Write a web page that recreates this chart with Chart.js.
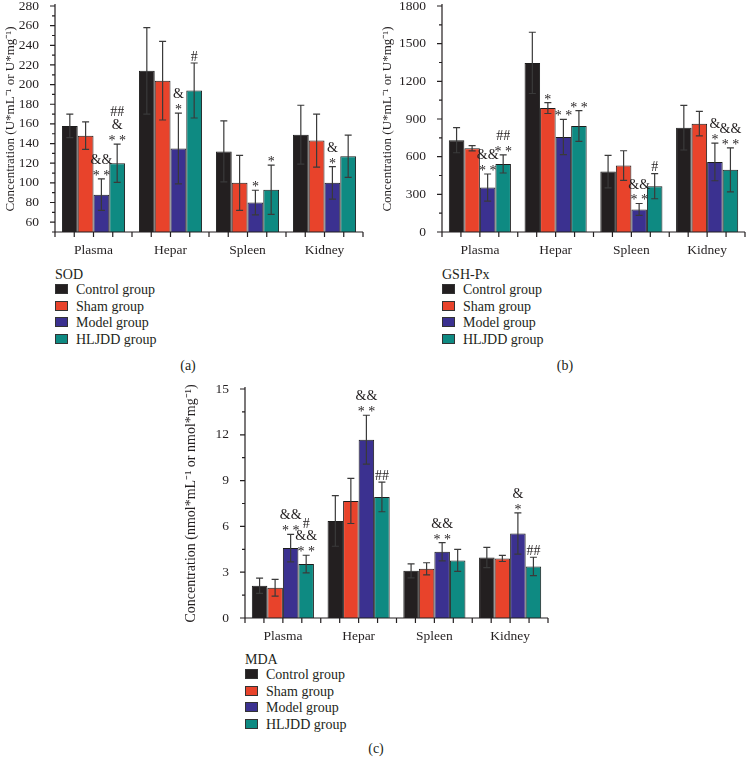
<!DOCTYPE html>
<html>
<head>
<meta charset="utf-8">
<script src="https://cdn.jsdelivr.net/npm/chart.js@4.4.0/dist/chart.umd.min.js"></script>
<style>
  body { margin: 0; background: #fff; width: 754px; height: 768px; position: relative; overflow: hidden;
         font-family: "Liberation Serif", "DejaVu Serif", serif; color: #231f20; }
  .box { position: absolute; }
  .legend { position: absolute; font-size: 14px; line-height: 16.6px; }
  .legend .ttl { line-height: 14px; height: 14px; }
  .legend .sw { display: inline-block; width: 13px; height: 10px; border: 1px solid #333; box-sizing: border-box;
                margin-right: 8px; vertical-align: 0px; }
  .cap { position: absolute; font-size: 14px; transform: translateX(-50%); }
</style>
</head>
<body>

<div class="box" style="left:0;top:0"><canvas id="sod" width="377" height="262"></canvas></div>
<div class="box" style="left:377px;top:0"><canvas id="gsh" width="377" height="262"></canvas></div>
<div class="box" style="left:180px;top:383px"><canvas id="mda" width="400" height="265"></canvas></div>

<div class="legend" id="legA" style="left:55px;top:268px"></div>
<div class="legend" id="legB" style="left:442px;top:268px"></div>
<div class="legend" id="legC" style="left:245px;top:653px"></div>

<div class="cap" style="left:188px;top:358px">(a)</div>
<div class="cap" style="left:565px;top:358px">(b)</div>
<div class="cap" style="left:376px;top:741px">(c)</div>

<script>
const organs = ['Plasma', 'Hepar', 'Spleen', 'Kidney'];
const groups = ['Control group', 'Sham group', 'Model group', 'HLJDD group'];
const groupColors = ['#231f20', '#e8432b', '#3b3190', '#0e8a82'];

// SOD (a)
const sodControl = [158, 214, 132, 149];
const sodSham    = [148, 204, 100, 143];
const sodModel   = [88, 135, 80, 100];
const sodHljdd   = [120, 194, 93, 127];
const sodControlSd = [12, 44, 31, 30];
const sodShamSd    = [14, 40, 28, 27];
const sodModelSd   = [16, 36, 12.5, 16.5];
const sodHljddSd   = [19.5, 28, 25, 21.5];
const sodModelMarks = ['&&|* *', '&|*', '*', '&|*'];
const sodHljddMarks = ['##|&|* *', '#', '*', ''];
const sodTicks = [60, 80, 100, 120, 140, 160, 180, 200, 220, 240, 260, 280];

// GSH-Px (b)
const gshControl = [731, 1347, 481, 831];
const gshSham    = [667, 987, 529, 863];
const gshModel   = [354, 757, 180, 558];
const gshHljdd   = [542, 844, 365, 495];
const gshControlSd = [100, 244, 130, 178];
const gshShamSd    = [21, 43, 118, 97];
const gshModelSd   = [108, 140, 47, 150];
const gshHljddSd   = [72, 123, 100, 175];
const gshShamMarks  = ['', '*', '', ''];
const gshModelMarks = ['&&|* *', '* *', '&&|* *', '&|*'];
const gshHljddMarks = ['##|* *', '* *', '#', '&&|* *'];
const gshTicks = [0, 300, 600, 900, 1200, 1500, 1800];

// MDA (c)
const mdaControl = [2.11, 6.36, 3.09, 3.96];
const mdaSham    = [1.98, 7.67, 3.22, 3.9];
const mdaModel   = [4.58, 11.68, 4.34, 5.53];
const mdaHljdd   = [3.53, 7.93, 3.77, 3.38];
const mdaControlSd = [0.5, 1.66, 0.46, 0.66];
const mdaShamSd    = [0.55, 1.48, 0.4, 0.2];
const mdaModelSd   = [0.9, 1.6, 0.6, 1.35];
const mdaHljddSd   = [0.58, 0.97, 0.72, 0.6];
const mdaModelMarks = ['&&|* *', '&&|* *', '&&|* *', '&|*'];
const mdaHljddMarks = ['#|&&|* *', '##', '', '##'];
const mdaTicks = [0, 3, 6, 9, 12, 15];

const FONT = 'Liberation Serif';
const INK = '#231f20';

// error bars, significance marks, axis lines and tick marks
const extras = {
  id: 'extras',
  afterDatasetsDraw(chart) {
    const ctx = chart.ctx, ys = chart.scales.y;
    ctx.save();
    chart.data.datasets.forEach((ds, di) => {
      chart.getDatasetMeta(di).data.forEach((bar, i) => {
        const v = ds.data[i], sd = ds.sd[i];
        const top = ys.getPixelForValue(v + sd), bot = ys.getPixelForValue(v - sd);
        const cx = bar.x;
        ctx.strokeStyle = '#3a3a3a';
        ctx.lineWidth = 1.2;
        ctx.beginPath();
        ctx.moveTo(cx, top); ctx.lineTo(cx, bot);
        ctx.moveTo(cx - 3.5, top); ctx.lineTo(cx + 3.5, top);
        ctx.moveTo(cx - 3.5, bot); ctx.lineTo(cx + 3.5, bot);
        ctx.stroke();
        const m = ds.marks && ds.marks[i];
        if (m) {
          const lines = m.split('|').reverse();
          ctx.fillStyle = INK;
          ctx.font = '14px "' + FONT + '"';
          ctx.textAlign = 'center';
          ctx.textBaseline = 'alphabetic';
          lines.forEach((t, k) => {
            // glyph centres: asterisk sits high, & and # sit lower
            const yc = top - 7 - k * 12.7;
            ctx.fillText(t, cx, yc + (t.startsWith('*') ? 8 : 4.8));
          });
        }
      });
    });
    ctx.restore();
  },
  afterDraw(chart) {
    const ctx = chart.ctx, ys = chart.scales.y;
    const a = chart.chartArea;
    ctx.save();
    ctx.strokeStyle = INK;
    ctx.lineWidth = 1.2;
    ctx.beginPath();
    ctx.moveTo(a.left, a.top - 2); ctx.lineTo(a.left, a.bottom);
    ctx.lineTo(a.right, a.bottom);
    const tv = ys.ticks.map(t => t.value);
    tv.forEach((v, k) => {
      const py = ys.getPixelForValue(v);
      ctx.moveTo(a.left, py); ctx.lineTo(a.left - 5, py);
      const mv = k > 0 ? (v + tv[k - 1]) / 2 : v - (tv[1] - tv[0]) / 2;
      if (mv >= ys.min) {
        const pm = ys.getPixelForValue(mv);
        ctx.moveTo(a.left, pm); ctx.lineTo(a.left - 3, pm);
      }
    });
    const n = organs.length * 4;
    for (let k = 0; k <= n; k++) {
      const px = a.left + (a.right - a.left) * k / n;
      ctx.moveTo(px, a.bottom); ctx.lineTo(px, a.bottom + 5);
    }
    ctx.stroke();
    ctx.restore();
  }
};

function makeChart(id, sets, tickVals, yMin, yMax, yTitle, titleSize, yWidth, pad) {
  return new Chart(document.getElementById(id), {
    type: 'bar',
    data: {
      labels: organs,
      datasets: sets.map((s, k) => ({
        label: groups[k],
        data: s.data,
        sd: s.sd,
        marks: s.marks,
        backgroundColor: groupColors[k],
        borderColor: '#1c1c1c',
        borderWidth: 1,
        categoryPercentage: 0.82,
        barPercentage: 1
      }))
    },
    options: {
      responsive: false,
      animation: false,
      layout: { padding: pad },
      plugins: { legend: { display: false }, tooltip: { enabled: false } },
      scales: {
        x: {
          grid: { display: false },
          border: { display: false },
          ticks: { color: INK, font: { family: FONT, size: 13.5 }, padding: 2 },
          afterFit: s => { s.height = 30; s.paddingLeft = 0; s.paddingRight = 0; }
        },
        y: {
          min: yMin, max: yMax,
          afterBuildTicks: s => { s.ticks = tickVals.map(v => ({ value: v })); },
          afterFit: s => { s.width = yWidth; s.paddingTop = 0; s.paddingBottom = 0; },
          grid: { display: false },
          border: { display: false },
          ticks: { color: INK, font: { family: FONT, size: 13.5 }, padding: 8, callback: v => String(v) },
          title: { display: true, text: yTitle, color: INK, font: { family: FONT, size: titleSize }, padding: { top: 3, bottom: 2 } }
        }
      }
    },
    plugins: [extras]
  });
}

makeChart('sod', [
  { data: sodControl, sd: sodControlSd },
  { data: sodSham, sd: sodShamSd },
  { data: sodModel, sd: sodModelSd, marks: sodModelMarks },
  { data: sodHljdd, sd: sodHljddSd, marks: sodHljddMarks }
], sodTicks, 50, 280, 'Concentration (U*mL\u207B\u00B9 or U*mg\u207B\u00B9)', 13, 55, { top: 6, right: 14, left: 0, bottom: 0 });

makeChart('gsh', [
  { data: gshControl, sd: gshControlSd },
  { data: gshSham, sd: gshShamSd, marks: gshShamMarks },
  { data: gshModel, sd: gshModelSd, marks: gshModelMarks },
  { data: gshHljdd, sd: gshHljddSd, marks: gshHljddMarks }
], gshTicks, 0, 1800, 'Concentration (U*mL\u207B\u00B9 or U*mg\u207B\u00B9)', 13, 65, { top: 6, right: 9, left: 0, bottom: 0 });

makeChart('mda', [
  { data: mdaControl, sd: mdaControlSd },
  { data: mdaSham, sd: mdaShamSd },
  { data: mdaModel, sd: mdaModelSd, marks: mdaModelMarks },
  { data: mdaHljdd, sd: mdaHljddSd, marks: mdaHljddMarks }
], mdaTicks, 0, 15, 'Concentration (nmol*mL\u207B\u00B9 or nmol*mg\u207B\u00B9)', 14, 65, { top: 6, right: 32, left: 0, bottom: 0 });

function legend(id, title) {
  const el = document.getElementById(id);
  let html = '<div class="ttl">' + title + '</div>';
  groups.forEach((g, k) => {
    html += '<div><span class="sw" style="background:' + groupColors[k] + '"></span>' + g + '</div>';
  });
  el.innerHTML = html;
}
legend('legA', 'SOD');
legend('legB', 'GSH-Px');
legend('legC', 'MDA');
</script>
</body>
</html>
